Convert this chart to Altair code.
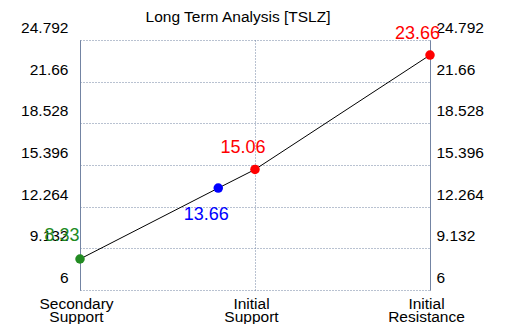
import json
import altair as alt
import pandas as pd

# ---- data ----
names = ["Secondary Support", "Current", "Initial Support", "Initial Resistance"]
positions = [0, 0.79, 1, 2]
values = [8.33, 13.66, 15.06, 23.66]
labels = ["8.33", "13.66", "15.06", "23.66"]
colors = ["#228B22", "#0000FF", "#FF0000", "#FF0000"]
label_dx = [-18, -12, -12, -12.5]
label_dy = [-23, 27, -21, -21]

y_ticks = [6, 9.132, 12.264, 15.396, 18.528, 21.66, 24.792]
x_ticks = [0, 1, 2]
x_tick_labels = [["Secondary", "Support"], ["Initial", "Support"], ["Initial", "Resistance"]]

df = pd.DataFrame({"name": names, "pos": positions, "value": values,
                   "label": labels, "color": colors})

FONT = "Liberation Sans, Arial, sans-serif"
GRID = "#7384a3"
DASH = [1, 2]

yscale = alt.Scale(domain=[y_ticks[0], y_ticks[-1]], nice=False, zero=False)
xscale = alt.Scale(domain=[x_ticks[0], x_ticks[-1]], nice=False, zero=False)

YFMT = "format(datum.value, '.5~g')"

left_axis = alt.Axis(orient="left", values=y_ticks, grid=True, gridDash=DASH,
                     gridColor=GRID, gridOpacity=1, domain=True, domainColor=GRID,
                     ticks=False, labelPadding=12, labelOffset=-12.5,
                     labelFontSize=15.5, labelFont=FONT, labelColor="black",
                     labelFlush=False, labelOverlap=False, labelExpr=YFMT, title=None)
right_axis = alt.Axis(orient="right", values=y_ticks, grid=False, domain=True,
                      domainColor=GRID, ticks=False, labelPadding=6,
                      labelOffset=-12.5, labelFontSize=15.5, labelFont=FONT,
                      labelColor="black", labelFlush=False, labelOverlap=False,
                      labelExpr=YFMT, title=None)
x_axis = alt.Axis(values=x_ticks, grid=True, gridDash=DASH, gridColor=GRID,
                  gridOpacity=1, domain=False, ticks=False,
                  labelExpr=f"{json.dumps(x_tick_labels)}[datum.value]",
                  labelFlush=False, labelOverlap=False, labelPadding=6,
                  labelLineHeight=13, labelFontSize=15.5, labelFont=FONT,
                  labelColor="black", labelOffset=-4, title=None)

X = alt.X("pos:Q", scale=xscale, axis=x_axis)

line = alt.Chart(df).mark_line(color="black", strokeWidth=1).encode(
    x=X,
    y=alt.Y("value:Q", scale=yscale, axis=left_axis),
    order="pos:Q",
)

points = alt.Chart(df).mark_circle(size=90, opacity=1).encode(
    x=X,
    y=alt.Y("value:Q", scale=yscale, axis=right_axis),
    color=alt.Color("color:N", scale=None),
)

texts = []
for i, n in enumerate(names):
    texts.append(
        alt.Chart(df).transform_filter(alt.datum.name == n).mark_text(
            dx=label_dx[i], dy=label_dy[i], fontSize=18, font=FONT,
            color=colors[i], align="center", baseline="middle",
        ).encode(
            x=X,
            y=alt.Y("value:Q", scale=yscale, axis=None),
            text="label:N",
        )
    )

chart = alt.layer(line, points, *texts).resolve_scale(y="independent").properties(
    width=350,
    height=250,
    title=alt.Title("Long Term Analysis [TSLZ]", font=FONT, fontSize=15.5,
                    fontWeight="normal", color="black", anchor="middle", dx=-17,
                    dy=9),
    autosize=alt.AutoSizeParams(type="none"),
    padding={"left": 72, "top": 32, "right": 60, "bottom": 34},
).configure_view(stroke=None)

chart.save("out.html", embed_options={"renderer": "svg", "actions": False})
